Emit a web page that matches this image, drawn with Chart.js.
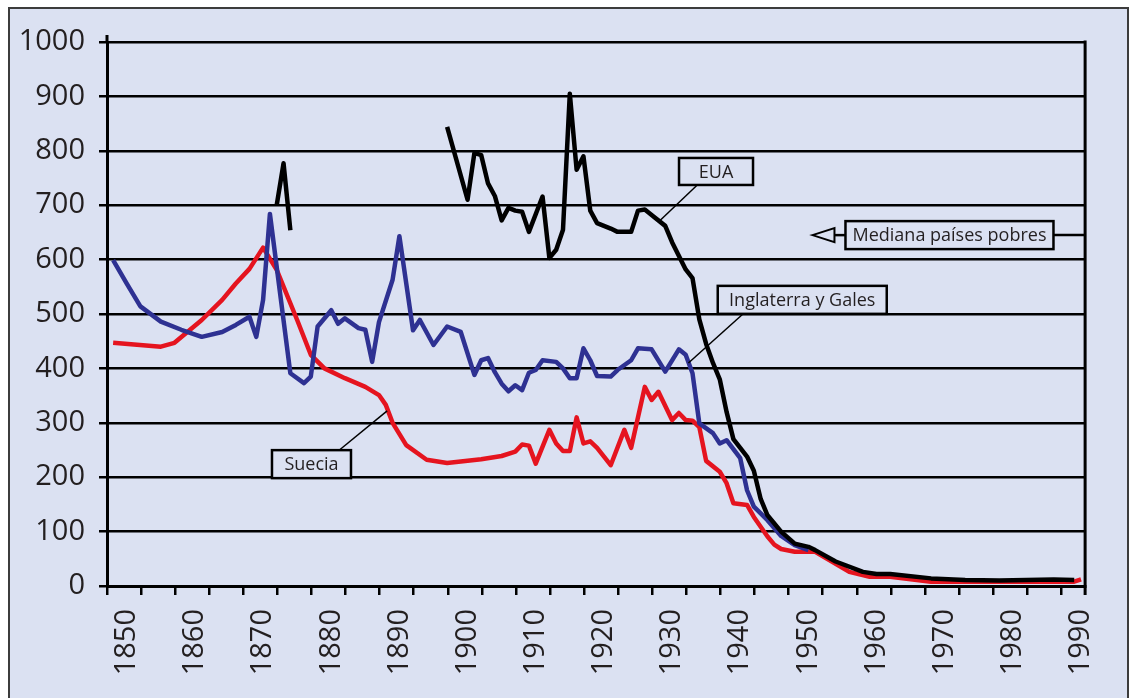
<!DOCTYPE html>
<html><head><meta charset="utf-8">
<script src="https://cdn.jsdelivr.net/npm/chart.js@4.4.1/dist/chart.umd.min.js"></script>
<style>
html,body{margin:0;padding:0;background:#fff;width:1130px;height:698px;overflow:hidden}
#frame{position:absolute;left:8px;top:7px;width:1117px;height:720px;background:#dbe1f2;border:2px solid #3c3c3c;}
#wrap{position:absolute;left:0;top:0;width:1130px;height:698px}
</style></head><body>
<div id="frame"></div>
<div id="wrap"><canvas id="c" width="1130" height="698"></canvas></div>
<script>
// ---- data (year, deaths per 1000 births) ----
const suecia = [
 [1848,447],[1855,440],[1857,447],[1861,489],[1864,526],[1866,556],[1868,583],[1870,622],
 [1872,581],[1875,489],[1877,425],[1879,400],[1882,382],[1885,366],[1887,351],[1888,333],
 [1889,300],[1891,259],[1894,232],[1897,226],[1902,233],[1905,239],[1907,247],[1908,260],
 [1909,258],[1910,225],[1912,287],[1913,262],[1914,248],[1915,248],[1916,310],[1917,262],
 [1918,266],[1919,254],[1921,222],[1923,287],[1924,254],[1926,366],[1927,342],[1928,357],
 [1930,305],[1931,318],[1932,305],[1933,304],[1934,292],[1935,230],[1937,210],[1938,189],
 [1939,152],[1941,149],[1942,127],[1944,91],[1945,76],[1946,68],[1948,63],[1951,63],
 [1953,48],[1956,26],[1959,17],[1962,17],[1968,8],[1989,8],[1990,12]
];
const inglaterra = [
 [1848,599],[1850,556],[1852,514],[1855,486],[1858,471],[1861,458],[1864,467],[1866,480],
 [1868,495],[1869,458],[1870,526],[1871,684],[1874,391],[1876,373],[1877,385],[1878,477],
 [1880,507],[1881,482],[1882,492],[1884,474],[1885,471],[1886,412],[1887,485],[1889,563],
 [1890,643],[1892,470],[1893,489],[1895,443],[1897,477],[1899,467],[1901,388],[1902,415],
 [1903,419],[1904,393],[1905,372],[1906,358],[1907,369],[1908,360],[1909,392],[1910,397],
 [1911,415],[1913,412],[1914,400],[1915,382],[1916,382],[1917,437],[1918,415],[1919,386],
 [1921,385],[1922,397],[1924,415],[1925,437],[1927,435],[1929,394],[1931,435],[1932,425],
 [1933,391],[1934,299],[1936,281],[1937,262],[1938,268],[1940,235],[1941,176],[1942,146],
 [1944,121],[1946,92],[1948,75],[1950,66]
];
const euaEarly = [[1872,700],[1873,777],[1874,654]];
const euaLate = [
 [1897,844],[1900,710],[1901,796],[1902,792],[1903,740],[1904,717],[1905,672],[1906,695],
 [1907,690],[1908,688],[1909,651],[1911,716],[1912,603],[1913,618],[1914,655],[1915,905],
 [1916,765],[1917,790],[1918,690],[1919,667],[1921,657],[1922,651],[1924,651],[1925,690],
 [1926,692],[1927,682],[1929,662],[1930,632],[1932,582],[1933,566],[1934,490],[1935,445],
 [1936,410],[1937,380],[1938,320],[1939,270],[1940,254],[1941,238],[1942,212],[1943,160],
 [1944,130],[1946,100],[1948,78],[1950,72],[1951,66],[1954,45],[1958,26],[1960,22],
 [1962,22],[1968,14],[1973,11],[1978,10],[1986,12],[1989,11]
];
const medianaPaisesPobres = 645;
const xTickLabels = [1850,1860,1870,1880,1890,1900,1910,1920,1930,1940,1950,1960,1970,1980,1990];

// ---- axis styling helpers ----
const X_MIN = 1847.1, X_MAX = 1990.6, MARK_STEP = 5;
const markTicks = [];
for (let v = X_MIN; v < X_MAX - 1; v += MARK_STEP) markTicks.push(+v.toFixed(2));
const labelSet = new Set(xTickLabels);
const allTicks = [...markTicks, ...xTickLabels].sort((a,b)=>a-b);

const BG = '#dbe1f2';
const TXT = '#231f20';

const toXY = arr => arr.map(([x,y]) => ({x, y}));
const euaData = [...toXY(euaEarly), {x:1885, y:null}, ...toXY(euaLate)];

const notes = [
 {text:'EUA', at:[1936.45,762], w:74, h:27, from:[1933.7,737], to:[1928.0,669]},
 {text:'Inglaterra y Gales', at:[1949.1,526], w:169, h:28, from:[1940.4,500], to:[1932.4,410]},
 {text:'Suecia', at:[1877.1,224], w:79, h:28, from:[1881.2,250], to:[1888.2,322]}
];
const medianNote = {text:'Mediana países pobres', atYear:1970.7, w:208, h:28, arrowYear:1950.6};

const decor = {
 id:'decor',
 afterDraw(chart){
  const {ctx, chartArea:a, scales:{x, y}} = chart;
  ctx.save();
  ctx.strokeStyle = '#000';
  ctx.lineWidth = 3;
  ctx.beginPath(); ctx.moveTo(a.right, a.top - 1.5); ctx.lineTo(a.right, a.bottom + 9); ctx.stroke();
  ctx.beginPath(); ctx.moveTo(a.left, a.top - 7); ctx.lineTo(a.left, a.top); ctx.stroke();

  ctx.font = '18px "Open Sans"';
  ctx.textAlign = 'center';
  ctx.textBaseline = 'middle';
  const drawBox = (cx, cy, w, h, text) => {
   ctx.fillStyle = BG;
   ctx.fillRect(cx - w/2, cy - h/2, w, h);
   ctx.lineWidth = 2.5; ctx.strokeStyle = '#000';
   ctx.strokeRect(cx - w/2, cy - h/2, w, h);
   ctx.fillStyle = TXT;
   ctx.fillText(text, cx, cy + 1);
  };
  notes.forEach(n => {
   ctx.lineWidth = 1.5; ctx.strokeStyle = '#000';
   ctx.beginPath();
   ctx.moveTo(x.getPixelForValue(n.from[0]), y.getPixelForValue(n.from[1]));
   ctx.lineTo(x.getPixelForValue(n.to[0]), y.getPixelForValue(n.to[1]));
   ctx.stroke();
   drawBox(x.getPixelForValue(n.at[0]), y.getPixelForValue(n.at[1]), n.w, n.h, n.text);
  });
  // median marker
  const my = y.getPixelForValue(medianaPaisesPobres);
  const mcx = x.getPixelForValue(medianNote.atYear);
  const tip = x.getPixelForValue(medianNote.arrowYear);
  const left = mcx - medianNote.w/2, right = mcx + medianNote.w/2;
  ctx.lineWidth = 2.5; ctx.strokeStyle = '#000';
  ctx.beginPath(); ctx.moveTo(right, my); ctx.lineTo(a.right, my); ctx.stroke();
  ctx.beginPath(); ctx.moveTo(left, my); ctx.lineTo(tip + 22, my); ctx.stroke();
  ctx.lineWidth = 2;
  ctx.beginPath(); ctx.moveTo(tip, my); ctx.lineTo(tip + 22, my - 7); ctx.lineTo(tip + 22, my + 7); ctx.closePath();
  ctx.fillStyle = BG; ctx.fill(); ctx.stroke();
  drawBox(mcx, my, medianNote.w, medianNote.h, medianNote.text);
  ctx.restore();
 }
};

const lineStyle = {pointRadius:0, borderWidth:4.5, tension:0, borderJoinStyle:'round', fill:false, spanGaps:false};

new Chart(document.getElementById('c'), {
 type:'line',
 data:{datasets:[
  {label:'EUA', data:euaData, borderColor:'#000000', order:1, ...lineStyle},
  {label:'Inglaterra y Gales', data:toXY(inglaterra), borderColor:'#2e3192', order:2, ...lineStyle},
  {label:'Suecia', data:toXY(suecia), borderColor:'#e5141f', order:3, ...lineStyle}
 ]},
 options:{
  responsive:false, animation:false, devicePixelRatio:1,
  layout:{padding:{left:0, right:42, top:42, bottom:0}},
  plugins:{legend:{display:false}, tooltip:{enabled:false}},
  scales:{
   x:{
    type:'linear', min:X_MIN, max:X_MAX,
    afterBuildTicks(scale){ scale.ticks = allTicks.map(v => ({value:v})); },
    afterFit(scale){ scale.height = 112; },
    border:{display:true, color:'#000', width:3},
    grid:{display:true, drawOnChartArea:false, drawTicks:true, tickLength:9, lineWidth:2.5,
      color:'#000',
      tickColor:(c) => (c.tick && labelSet.has(c.tick.value)) ? 'rgba(0,0,0,0)' : '#000'},
    ticks:{autoSkip:false, maxRotation:90, minRotation:90, padding:14, color:TXT,
      font:{family:'"Open Sans"', size:29},
      callback:(v) => labelSet.has(v) ? String(v) : ''}
   },
   y:{
    min:0, max:1000,
    afterFit(scale){ scale.width = 107; },
    border:{display:true, color:'#000', width:3},
    grid:{color:'#000', lineWidth:2.5, tickLength:8, drawTicks:true},
    ticks:{stepSize:100, padding:14, color:TXT, font:{family:'"Open Sans"', size:29},
      callback:(v) => String(v)}
   }
  }
 },
 plugins:[decor]
});
</script>
</body></html>
